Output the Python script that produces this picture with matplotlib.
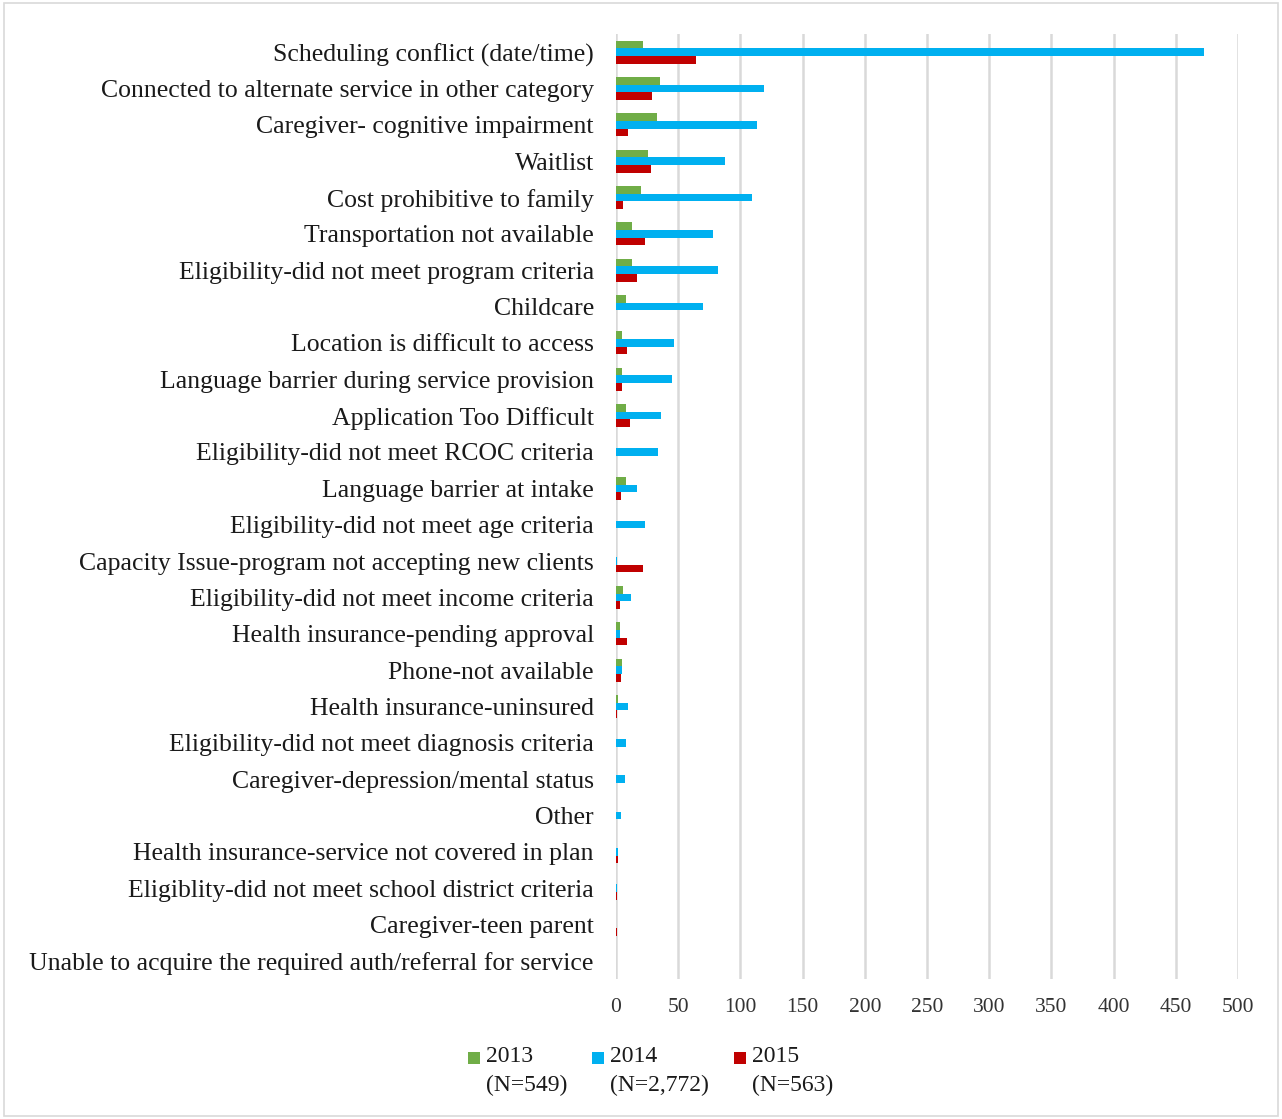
import matplotlib
matplotlib.use("Agg")
import matplotlib.pyplot as plt
import numpy as np

categories = [
    "Scheduling conflict (date/time)",
    "Connected to alternate service in other category",
    "Caregiver- cognitive impairment",
    "Waitlist",
    "Cost prohibitive to family",
    "Transportation not available",
    "Eligibility-did not meet program criteria",
    "Childcare",
    "Location is difficult to access",
    "Language barrier during service provision",
    "Application Too Difficult",
    "Eligibility-did not meet RCOC criteria",
    "Language barrier at intake",
    "Eligibility-did not meet age criteria",
    "Capacity Issue-program not accepting new clients",
    "Eligibility-did not meet income criteria",
    "Health insurance-pending approval",
    "Phone-not available",
    "Health insurance-uninsured",
    "Eligibility-did not meet diagnosis criteria",
    "Caregiver-depression/mental status",
    "Other",
    "Health insurance-service not covered in plan",
    "Eligiblity-did not meet school district criteria",
    "Caregiver-teen parent",
    "Unable to acquire the required auth/referral for service",
]
vals_2013 = [22, 35, 33, 26, 20, 13, 13, 8, 5, 5, 8, 0, 8, 0, 0, 6, 3, 5, 2, 0, 0, 0, 0, 0, 0, 0]
vals_2014 = [473, 119, 113, 88, 109, 78, 82, 70, 47, 45, 36, 34, 17, 23, 1, 12, 3, 5, 10, 8, 7, 4, 2, 1, 0, 0]
vals_2015 = [64, 29, 10, 28, 6, 23, 17, 0, 9, 5, 11, 0, 4, 0, 22, 3, 9, 4, 1, 0, 0, 0, 2, 1, 1, 0]
series_years = ["2013", "2014", "2015"]
series_counts = ["(N=549)", "(N=2,772)", "(N=563)"]
colors = ["#70ad47", "#00b0f0", "#c00000"]
xticks = list(range(0, 501, 50))

plt.rcParams['font.family'] = ['Liberation Serif', 'DejaVu Serif']

W, H = 1282, 1119
fig = plt.figure(figsize=(W/100, H/100), dpi=100)
ax = fig.add_axes([616/W, 1-979/H, (1238-616)/W, (979-34)/H])

y = np.arange(len(categories))
h = 0.21
for i, (vals, lab, c) in enumerate(zip([vals_2013, vals_2014, vals_2015], series_years, colors)):
    ax.barh(y + (i-1)*h, vals, height=h, color=c, label=lab, zorder=3)

ax.set_ylim(len(categories)-0.5, -0.5)
ax.set_xlim(0, 500)
ax.set_xticks(xticks)
ax.set_yticks(y)
ax.set_yticklabels(categories, fontsize=18.5, color="#1a1a1a")
ax.tick_params(axis='x', labelsize=15.5, colors="#333333", length=0, pad=14)
ax.tick_params(axis='y', length=0, pad=16)
ax.xaxis.grid(True, color="#d9d9d9", linewidth=1.8, zorder=0)
for s in ax.spines.values():
    s.set_visible(False)

# legend drawn manually: colour square + year on first line, N on second line
fig.canvas.draw()
renderer = fig.canvas.get_renderer()
x_px = 468
for yr, cnt, c in zip(series_years, series_counts, colors):
    fig.patches.append(plt.Rectangle((x_px/W, 1-1064/H), 12/W, 12/H, transform=fig.transFigure,
                                     facecolor=c, edgecolor="none"))
    fig.text((x_px+18)/W, 1-1057/H, yr, fontsize=17, color="#1a1a1a", ha="left", va="center")
    t2 = fig.text((x_px+18)/W, 1-1085/H, cnt, fontsize=17, color="#1a1a1a", ha="left", va="center")
    bb = t2.get_window_extent(renderer)
    x_px = bb.x1 + 25

fig.patches.append(plt.Rectangle((0.003, 0.003), 0.994, 0.994, transform=fig.transFigure,
                                 fill=False, edgecolor="#d9d9d9", linewidth=1.2))
fig.savefig("out.png", dpi=100, facecolor="white")
